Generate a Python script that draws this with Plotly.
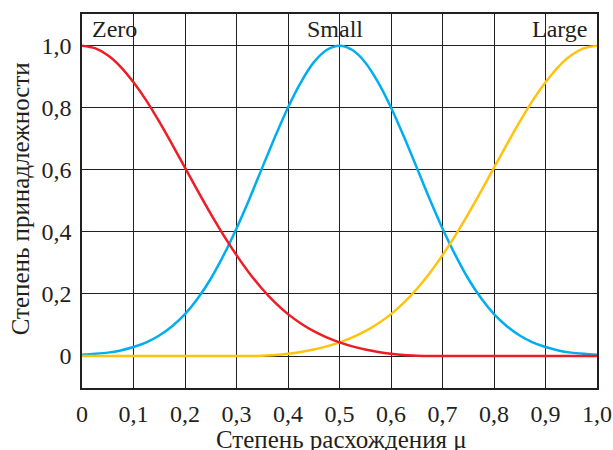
import plotly.graph_objects as go

x_vals = [0.000, 0.025, 0.050, 0.075, 0.100, 0.125, 0.150, 0.175, 0.200, 0.225,
          0.250, 0.275, 0.300, 0.325, 0.350, 0.375, 0.400, 0.425, 0.450, 0.475,
          0.500, 0.525, 0.550, 0.575, 0.600, 0.625, 0.650, 0.675, 0.700, 0.725,
          0.750, 0.775, 0.800, 0.825, 0.850, 0.875, 0.900, 0.925, 0.950, 0.975, 1.000]
zero_vals = [1.000, 0.992, 0.969, 0.932, 0.882, 0.823, 0.755, 0.682, 0.607, 0.531,
             0.458, 0.389, 0.325, 0.267, 0.216, 0.172, 0.135, 0.105, 0.080, 0.060,
             0.044, 0.031, 0.021, 0.013, 0.007, 0.003, 0.001, 0.0, 0.0, 0.0,
             0.0, 0.0, 0.0, 0.0, 0.0, 0.0, 0.0, 0.0, 0.0, 0.0, 0.0]
small_vals = [0.004, 0.007, 0.011, 0.018, 0.029, 0.044, 0.066, 0.096, 0.135, 0.186,
              0.249, 0.325, 0.411, 0.506, 0.607, 0.707, 0.801, 0.882, 0.946, 0.986,
              1.000, 0.986, 0.946, 0.882, 0.801, 0.707, 0.607, 0.506, 0.411, 0.325,
              0.249, 0.186, 0.135, 0.096, 0.066, 0.044, 0.029, 0.018, 0.011, 0.007, 0.004]
large_vals = [0.0, 0.0, 0.0, 0.0, 0.0, 0.0, 0.0, 0.0, 0.0, 0.0,
              0.0, 0.0, 0.0, 0.0, 0.001, 0.003, 0.007, 0.013, 0.021, 0.031,
              0.044, 0.060, 0.080, 0.105, 0.135, 0.172, 0.216, 0.267, 0.325, 0.389,
              0.458, 0.531, 0.607, 0.682, 0.755, 0.823, 0.882, 0.932, 0.969, 0.992, 1.000]

x_ticks = [0, 0.1, 0.2, 0.3, 0.4, 0.5, 0.6, 0.7, 0.8, 0.9, 1.0]
x_tick_labels = ["0", "0,1", "0,2", "0,3", "0,4", "0,5", "0,6", "0,7", "0,8", "0,9", "1,0"]
y_ticks = [0, 0.2, 0.4, 0.6, 0.8, 1.0]
y_tick_labels = ["0", "0,2", "0,4", "0,6", "0,8", "1,0"]

set_names = ["Zero", "Small", "Large"]
set_label_x = [0.0155, 0.492, 0.987]
set_label_anchor = ["left", "center", "right"]

x_title = "Степень расхождения μ"
y_title = "Степень принадлежности"

FONT = "Liberation Serif, Times New Roman, Times, serif"
INK = "#231f20"

fig = go.Figure()
for vals, color, name in [(small_vals, "#00aeef", "Small"),
                          (large_vals, "#ffc20e", "Large"),
                          (zero_vals, "#ee1c25", "Zero")]:
    fig.add_trace(go.Scatter(x=x_vals, y=vals, mode="lines", name=name,
                             line=dict(color=color, width=2.5, shape="spline", smoothing=0.8),
                             showlegend=False))

for name, xa, anc in zip(set_names, set_label_x, set_label_anchor):
    fig.add_annotation(x=xa, y=1.053, xref="x", yref="y", text=name, showarrow=False,
                       xanchor=anc, yanchor="middle",
                       font=dict(family=FONT, size=24, color=INK))

# axis titles as annotations for precise placement
fig.add_annotation(x=0.503, y=-0.139, xref="paper", yref="paper", text=x_title,
                   showarrow=False, xanchor="center", yanchor="middle",
                   font=dict(family=FONT, size=25, color=INK))
fig.add_annotation(x=-0.120, y=0.505, xref="paper", yref="paper", text=y_title,
                   showarrow=False, xanchor="center", yanchor="middle", textangle=-90,
                   font=dict(family=FONT, size=25, color=INK))

fig.update_layout(
    width=613, height=450,
    margin=dict(l=82, r=16, t=14, b=62),
    paper_bgcolor="white", plot_bgcolor="white",
    font=dict(family=FONT, size=24, color=INK),
)
fig.update_xaxes(
    range=[0, 1], tickvals=x_ticks, ticktext=x_tick_labels, automargin=False,
    showgrid=True, gridcolor=INK, gridwidth=1.3,
    zeroline=False, showline=True, linecolor=INK, linewidth=1.5, mirror=True,
    ticks="outside", ticklen=3, tickcolor="rgba(0,0,0,0)",
)
fig.update_yaxes(
    range=[-0.103, 1.102], tickvals=y_ticks, ticktext=y_tick_labels, automargin=False,
    showgrid=True, gridcolor=INK, gridwidth=1.3,
    zeroline=False, showline=True, linecolor=INK, linewidth=1.5, mirror=True,
    ticks="outside", ticklen=4, tickcolor="rgba(0,0,0,0)",
)

# remove the page's default 8px body margin so the figure fills the window exactly
fig.write_html("out.html",
               config={"displayModeBar": False},
               post_script="document.body.style.margin='0px';document.body.style.overflow='hidden';")
